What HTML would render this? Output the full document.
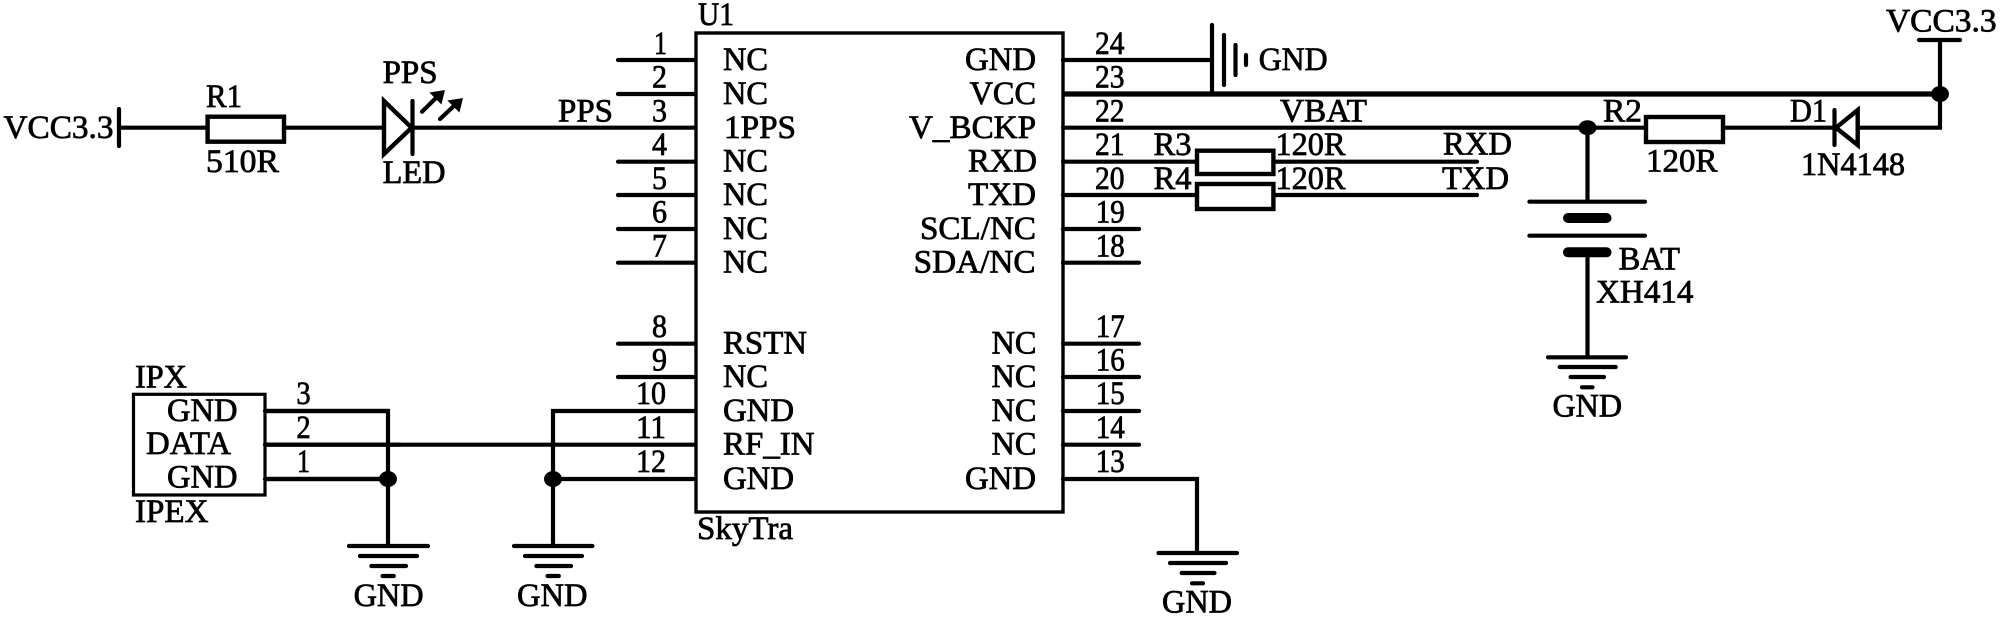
<!DOCTYPE html>
<html><head><meta charset="utf-8"><style>
html,body{margin:0;padding:0;background:#fff}
svg{display:block}
text{font-family:"Liberation Serif",serif;font-size:33px;fill:#000;stroke:#000;stroke-width:.75px}
.w{fill:none;stroke:#000;stroke-width:4.2;stroke-linecap:round;stroke-linejoin:miter}
.b{fill:#fff;stroke:#000;stroke-width:4.4}
</style></head><body>
<svg width="2000" height="618" viewBox="0 0 2000 618" xmlns="http://www.w3.org/2000/svg">
<rect width="2000" height="618" fill="#fff"/>
<rect x="696" y="33" width="367" height="479" fill="none" stroke="#000" stroke-width="3.4"/>
<path class="w" d="M618 60H694M618 94H694M618 161.7H694M618 195H694M618 229H694M618 262.7H694M618 343.7H694M618 377H694
M119 127.7H694M119 109V146
M1063 60H1212M1212 25V94M1224 35V85M1235.5 45V75M1246 55V65
M1063 127.7H1940V40M1919 40H1960
M1063 161.7H1477M1063 195H1477
M1063 229H1139M1063 262.7H1139M1063 343.7H1139M1063 377H1139M1063 411H1139M1063 444.7H1139
M1063 479H1197V553
M1158.5 553H1237M1170 563H1226M1181.7 573H1214.5M1192 583.3H1203
M1587.5 127.7V201.7M1529.4 201.7H1645M1529.4 235.7H1645M1587.5 252V357.3
M1548 357.3H1626M1559.7 367H1615.7M1570.6 377H1604M1582 387.3H1592.5
M265 411H388V546M265 444.7H694M265 479H388
M553 546V411H694M553 479H694
M349 546H428M360 556H417M371.4 566H406M382.6 576H393.8
M514 546H592.4M525 556H582M536.4 566H571M547.6 576H558.8
M422 111.7L438 96M440 119L456 104"/>
<path d="M1063 94H1940" fill="none" stroke="#000" stroke-width="5.2"/>
<path d="M444 91l-13 2 10 10zM462 99l-13 2 10 10z" fill="#000" stroke="#000" stroke-width="1.5"/>
<rect class="b" x="207.6" y="116.7" width="76.4" height="25"/>
<rect class="b" x="1646" y="117" width="77" height="25"/>
<rect class="b" x="1197" y="150.7" width="76.4" height="23.3"/>
<rect class="b" x="1197" y="184" width="76.4" height="25"/>
<rect x="133.5" y="394.3" width="131.5" height="100.7" fill="#fff" stroke="#000" stroke-width="3.2"/>
<path d="M265 411H388M265 444.7H400M265 479H388" class="w"/>
<path d="M384 101V154L411.6 127.7Z" class="b"/>
<path class="w" d="M412.5 101V154"/>
<path d="M1857.7 110V145L1836 127.7Z" class="b"/>
<path class="w" d="M1834.5 110V145"/>
<rect x="1563" y="213" width="48.5" height="10" rx="5" fill="#000"/>
<rect x="1563" y="247.3" width="48.5" height="10" rx="5" fill="#000"/>
<ellipse cx="1940" cy="94" rx="9" ry="8" fill="#000"/>
<ellipse cx="1587.5" cy="127.7" rx="9" ry="7.5" fill="#000"/>
<ellipse cx="388" cy="479" rx="9" ry="8" fill="#000"/>
<ellipse cx="553" cy="479" rx="9" ry="8" fill="#000"/>

<text x="3.5" y="138" textLength="110" lengthAdjust="spacingAndGlyphs">VCC3.3</text>
<text x="206" y="107" textLength="36" lengthAdjust="spacingAndGlyphs">R1</text>
<text x="206" y="172" textLength="73" lengthAdjust="spacingAndGlyphs">510R</text>
<text x="382.6" y="83" textLength="55" lengthAdjust="spacingAndGlyphs">PPS</text>
<text x="382.6" y="183" textLength="63" lengthAdjust="spacingAndGlyphs">LED</text>
<text x="558" y="121.7" textLength="55" lengthAdjust="spacingAndGlyphs">PPS</text>
<text x="698" y="25" textLength="36" lengthAdjust="spacingAndGlyphs">U1</text>
<text x="697" y="539" textLength="96" lengthAdjust="spacingAndGlyphs">SkyTra</text>

<text x="654" y="54" textLength="13" lengthAdjust="spacingAndGlyphs">1</text>
<text x="652" y="87.7" textLength="15" lengthAdjust="spacingAndGlyphs">2</text>
<text x="652" y="121.7" textLength="15" lengthAdjust="spacingAndGlyphs">3</text>
<text x="652" y="155" textLength="15" lengthAdjust="spacingAndGlyphs">4</text>
<text x="652" y="189" textLength="15" lengthAdjust="spacingAndGlyphs">5</text>
<text x="652" y="222.7" textLength="15" lengthAdjust="spacingAndGlyphs">6</text>
<text x="652" y="256.7" textLength="15" lengthAdjust="spacingAndGlyphs">7</text>
<text x="652" y="337" textLength="15" lengthAdjust="spacingAndGlyphs">8</text>
<text x="652" y="370.7" textLength="15" lengthAdjust="spacingAndGlyphs">9</text>
<text x="636" y="404" textLength="30" lengthAdjust="spacingAndGlyphs">10</text>
<text x="636" y="438" textLength="30" lengthAdjust="spacingAndGlyphs">11</text>
<text x="636" y="472" textLength="30" lengthAdjust="spacingAndGlyphs">12</text>

<text x="723" y="70" textLength="45" lengthAdjust="spacingAndGlyphs">NC</text>
<text x="723" y="104" textLength="45" lengthAdjust="spacingAndGlyphs">NC</text>
<text x="724" y="138" textLength="72" lengthAdjust="spacingAndGlyphs">1PPS</text>
<text x="723" y="171.7" textLength="45" lengthAdjust="spacingAndGlyphs">NC</text>
<text x="723" y="205" textLength="45" lengthAdjust="spacingAndGlyphs">NC</text>
<text x="723" y="239" textLength="45" lengthAdjust="spacingAndGlyphs">NC</text>
<text x="723" y="272.7" textLength="45" lengthAdjust="spacingAndGlyphs">NC</text>
<text x="723" y="353.5" textLength="84" lengthAdjust="spacingAndGlyphs">RSTN</text>
<text x="723" y="387" textLength="45" lengthAdjust="spacingAndGlyphs">NC</text>
<text x="723" y="421" textLength="71" lengthAdjust="spacingAndGlyphs">GND</text>
<text x="723" y="454.7" textLength="91.6" lengthAdjust="spacingAndGlyphs">RF_IN</text>
<text x="723" y="489" textLength="71" lengthAdjust="spacingAndGlyphs">GND</text>

<text x="965" y="70" textLength="71" lengthAdjust="spacingAndGlyphs">GND</text>
<text x="969.6" y="104" textLength="66.4" lengthAdjust="spacingAndGlyphs">VCC</text>
<text x="909" y="138" textLength="127" lengthAdjust="spacingAndGlyphs">V_BCKP</text>
<text x="968" y="171.7" textLength="69" lengthAdjust="spacingAndGlyphs">RXD</text>
<text x="968" y="205" textLength="68" lengthAdjust="spacingAndGlyphs">TXD</text>
<text x="920" y="239" textLength="116" lengthAdjust="spacingAndGlyphs">SCL/NC</text>
<text x="913.6" y="272.7" textLength="122" lengthAdjust="spacingAndGlyphs">SDA/NC</text>
<text x="991.5" y="353.5" textLength="45" lengthAdjust="spacingAndGlyphs">NC</text>
<text x="991.5" y="387" textLength="45" lengthAdjust="spacingAndGlyphs">NC</text>
<text x="991.5" y="421" textLength="45" lengthAdjust="spacingAndGlyphs">NC</text>
<text x="991.5" y="454.7" textLength="45" lengthAdjust="spacingAndGlyphs">NC</text>
<text x="965" y="489" textLength="71" lengthAdjust="spacingAndGlyphs">GND</text>

<text x="1095" y="54" textLength="29.5" lengthAdjust="spacingAndGlyphs">24</text>
<text x="1095" y="87.7" textLength="29.5" lengthAdjust="spacingAndGlyphs">23</text>
<text x="1095" y="121.7" textLength="29.5" lengthAdjust="spacingAndGlyphs">22</text>
<text x="1095" y="155" textLength="29.5" lengthAdjust="spacingAndGlyphs">21</text>
<text x="1095" y="189" textLength="29.5" lengthAdjust="spacingAndGlyphs">20</text>
<text x="1095.8" y="222.7" textLength="29" lengthAdjust="spacingAndGlyphs">19</text>
<text x="1095.8" y="256.7" textLength="29" lengthAdjust="spacingAndGlyphs">18</text>
<text x="1095.8" y="337" textLength="29" lengthAdjust="spacingAndGlyphs">17</text>
<text x="1095.8" y="370.7" textLength="29" lengthAdjust="spacingAndGlyphs">16</text>
<text x="1095.8" y="404" textLength="29" lengthAdjust="spacingAndGlyphs">15</text>
<text x="1095.8" y="438" textLength="29" lengthAdjust="spacingAndGlyphs">14</text>
<text x="1095.8" y="472" textLength="29" lengthAdjust="spacingAndGlyphs">13</text>

<text x="1258.7" y="70" textLength="69" lengthAdjust="spacingAndGlyphs">GND</text>
<text x="1153.5" y="155" textLength="38" lengthAdjust="spacingAndGlyphs">R3</text>
<text x="1153.5" y="189" textLength="38" lengthAdjust="spacingAndGlyphs">R4</text>
<text x="1275.5" y="155" textLength="70" lengthAdjust="spacingAndGlyphs">120R</text>
<text x="1275.5" y="189" textLength="70" lengthAdjust="spacingAndGlyphs">120R</text>
<text x="1280" y="121.7" textLength="87" lengthAdjust="spacingAndGlyphs">VBAT</text>
<text x="1443" y="154.3" textLength="69" lengthAdjust="spacingAndGlyphs">RXD</text>
<text x="1442" y="189" textLength="67" lengthAdjust="spacingAndGlyphs">TXD</text>
<text x="1603" y="121.7" textLength="39" lengthAdjust="spacingAndGlyphs">R2</text>
<text x="1646" y="171.7" textLength="71.5" lengthAdjust="spacingAndGlyphs">120R</text>
<text x="1790" y="121.7" textLength="37" lengthAdjust="spacingAndGlyphs">D1</text>
<text x="1801" y="175" textLength="104" lengthAdjust="spacingAndGlyphs">1N4148</text>
<text x="1886" y="31.7" textLength="110.6" lengthAdjust="spacingAndGlyphs">VCC3.3</text>
<text x="1618.6" y="269.3" textLength="61.4" lengthAdjust="spacingAndGlyphs">BAT</text>
<text x="1596" y="302.7" textLength="97.5" lengthAdjust="spacingAndGlyphs">XH414</text>
<text x="1552.5" y="416.7" textLength="69.5" lengthAdjust="spacingAndGlyphs">GND</text>

<text x="135" y="387.7" textLength="52" lengthAdjust="spacingAndGlyphs">IPX</text>
<text x="167" y="421" textLength="70.5" lengthAdjust="spacingAndGlyphs">GND</text>
<text x="146" y="454" textLength="85" lengthAdjust="spacingAndGlyphs">DATA</text>
<text x="167" y="487.7" textLength="70.5" lengthAdjust="spacingAndGlyphs">GND</text>
<text x="135" y="522" textLength="73.5" lengthAdjust="spacingAndGlyphs">IPEX</text>
<text x="296.4" y="404" textLength="14.3" lengthAdjust="spacingAndGlyphs">3</text>
<text x="296.4" y="438" textLength="14.3" lengthAdjust="spacingAndGlyphs">2</text>
<text x="297" y="472" textLength="13" lengthAdjust="spacingAndGlyphs">1</text>
<text x="353.6" y="606" textLength="70" lengthAdjust="spacingAndGlyphs">GND</text>
<text x="517" y="606" textLength="70.5" lengthAdjust="spacingAndGlyphs">GND</text>
<text x="1162" y="612.7" textLength="70" lengthAdjust="spacingAndGlyphs">GND</text>
</svg>
</body></html>
